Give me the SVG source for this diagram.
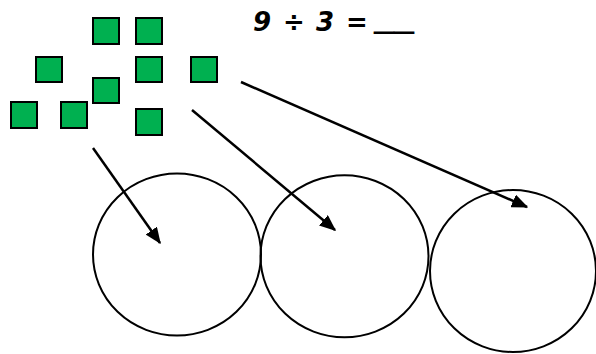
<svg xmlns="http://www.w3.org/2000/svg" width="596" height="354" viewBox="0 0 596 354">
<style>
.sq{fill:#00b050;stroke:#000;stroke-width:2}
.c{fill:none;stroke:#000;stroke-width:2}
.a{fill:none;stroke:#000;stroke-width:2.5}
.t{font-family:"DejaVu Sans",sans-serif;font-weight:bold;font-style:italic;font-size:26px;fill:#000}
</style>
<defs>
<marker id="ah" viewBox="0 0 12 10" refX="11" refY="5" markerWidth="6.6" markerHeight="5.5" orient="auto" markerUnits="strokeWidth">
<path d="M0,0 L12,5 L0,10 Z" fill="#000"/>
</marker>
</defs>
<rect width="596" height="354" fill="#fff"/>
<g id="counters">
<rect class="sq" x="93" y="18" width="26" height="26"/>
<rect class="sq" x="136" y="18" width="26" height="26"/>
<rect class="sq" x="36" y="57" width="26" height="25"/>
<rect class="sq" x="136" y="57" width="26" height="25"/>
<rect class="sq" x="191" y="57" width="26" height="25"/>
<rect class="sq" x="93" y="78" width="26" height="25"/>
<rect class="sq" x="11" y="102" width="26" height="26"/>
<rect class="sq" x="61" y="102" width="26" height="26"/>
<rect class="sq" x="136" y="109" width="26" height="26"/>
</g>
<g id="equation">
<text class="t" y="31"><tspan x="253">9</tspan><tspan x="283">÷</tspan><tspan x="316">3</tspan><tspan x="346">=</tspan></text>
<text class="t" x="374" y="28" textLength="40" lengthAdjust="spacingAndGlyphs">__</text>
</g>
<g id="circle1"><ellipse class="c" cx="177" cy="254.5" rx="84" ry="81"/></g>
<g id="circle2"><ellipse class="c" cx="344.5" cy="256.3" rx="84" ry="81"/></g>
<g id="circle3"><ellipse class="c" cx="513" cy="271" rx="83" ry="81"/></g>
<g id="connectors">
<line class="a" x1="93" y1="148" x2="160" y2="243" marker-end="url(#ah)"/>
<line class="a" x1="192" y1="110" x2="335" y2="230" marker-end="url(#ah)"/>
<line class="a" x1="241" y1="82" x2="527" y2="207" marker-end="url(#ah)"/>
</g>
</svg>
